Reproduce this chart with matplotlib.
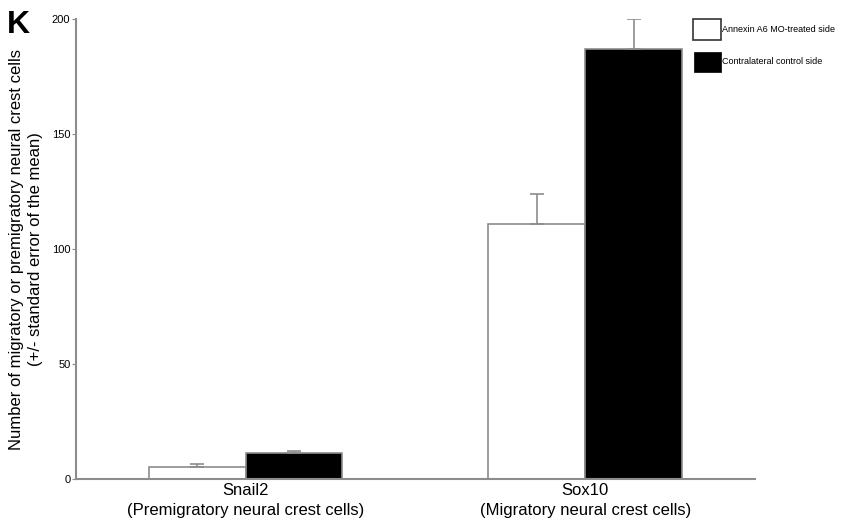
import matplotlib
matplotlib.use("Agg")
import matplotlib.pyplot as plt
import numpy as np
from matplotlib.patches import Rectangle

plt.rcParams['font.family'] = ['Liberation Sans', 'DejaVu Sans']

categories = ["Snail2\n(Premigratory neural crest cells)", "Sox10\n(Migratory neural crest cells)"]
series_names = ["Annexin A6 MO-treated side", "Contralateral control side"]
treated = [5.2, 110.8]
treated_err = [1.3, 13.0]
control = [11.3, 187.0]
control_err = [1.0, 13.0]
yticks = [0, 50, 100, 150, 200]

fig = plt.figure(figsize=(8.45, 5.29), dpi=100)
ax = fig.add_axes([0.0899, 0.0945, 0.8036, 0.8695])

x = np.arange(len(categories))
w = 0.285
gray = "#8c8c8c"
ekw = dict(ecolor=gray, capsize=4.7, elinewidth=1.2, capthick=1.2)
ax.bar(x - w/2, treated, w, color="white", edgecolor=gray, linewidth=1.2,
       yerr=[np.zeros(2), treated_err], error_kw=ekw)
ax.bar(x + w/2, control, w, color="black", edgecolor=gray, linewidth=1.2,
       yerr=[np.zeros(2), control_err], error_kw=ekw)

ax.set_xlim(-0.5, 1.5)
ax.set_ylim(0, 200)
ax.set_yticks(yticks)
ax.set_yticklabels([str(t) for t in yticks], fontsize=8)
ax.set_xticks(x)
ax.set_xticklabels(categories, fontsize=12, linespacing=1.4)
ax.tick_params(axis='x', length=0, pad=3)
ax.tick_params(axis='y', length=3, color=gray, pad=1)
for s in ["top", "right"]:
    ax.spines[s].set_visible(False)
for s in ["left", "bottom"]:
    ax.spines[s].set_color(gray)
    ax.spines[s].set_linewidth(1.5)
ax.set_ylabel("Number of migratory or premigratory neural crest cells\n(+/- standard error of the mean)",
              fontsize=12, linespacing=1.3)
ax.yaxis.set_label_coords(-33/679, 0.5)

# legend (manual, in figure coords)
fig.patches.append(Rectangle((693/845, 1-40/529), 28/845, 21/529, transform=fig.transFigure,
                             facecolor="white", edgecolor="#333333", linewidth=1.2))
fig.patches.append(Rectangle((694/845, 1-72/529), 27/845, 20/529, transform=fig.transFigure,
                             facecolor="black", edgecolor="black", linewidth=0.5))
fig.text(722/845, 1-30/529, series_names[0], fontsize=6.5, va="center", ha="left")
fig.text(722/845, 1-62/529, series_names[1], fontsize=6.5, va="center", ha="left")

fig.text(7/845, 1-33/529, "K", fontsize=23, fontweight="bold", va="baseline", ha="left")

fig.savefig("out.png", dpi=100)
